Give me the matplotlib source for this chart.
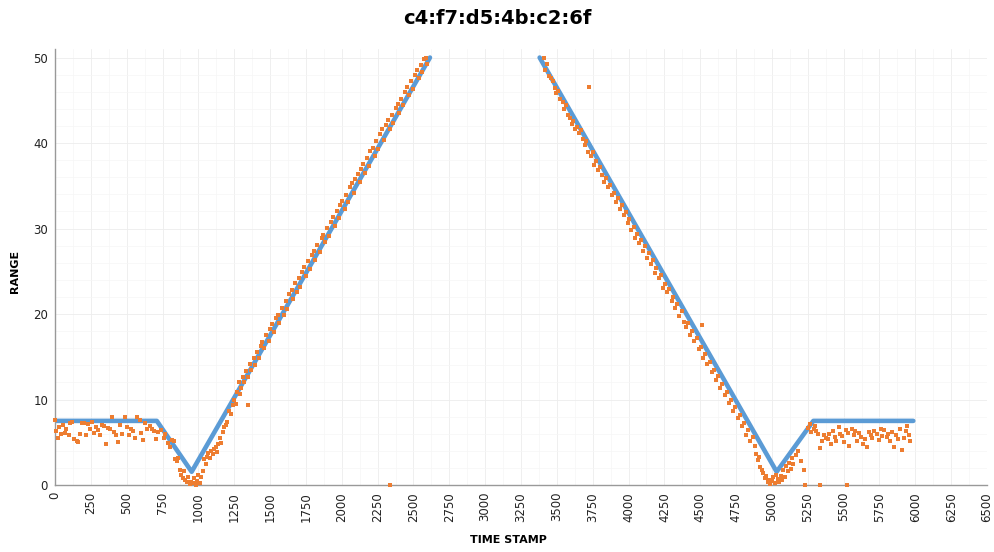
import matplotlib
matplotlib.use("Agg")
import matplotlib.pyplot as plt
from matplotlib.ticker import MultipleLocator

# blue reference track (breakpoints)
track1_x = [0, 710, 953, 2615]
track1_y = [7.5, 7.5, 1.55, 50.0]
track2_x = [3380, 5033, 5289, 5986]
track2_y = [50.0, 1.55, 7.5, 7.5]

# orange measured samples
flat1_x = [0, 10, 20, 30, 45, 55, 70, 80, 95, 105, 120, 135, 150, 160, 175, 190, 200, 215,
           230, 245, 260, 270, 285, 300, 315, 330, 345, 355, 370, 385, 400, 410, 425, 440,
           455, 470, 485, 500, 515, 530, 545, 560, 575, 590, 600, 615, 630, 645, 660, 675,
           690, 705, 720]
flat1_y = [7.6, 6.3, 5.5, 6.8, 6.0, 7.0, 6.1, 6.5, 5.9, 7.2, 7.4, 5.4, 5.2, 5.0, 6.0, 7.2,
           7.3, 5.8, 7.1, 6.6, 7.4, 6.1, 6.8, 6.4, 5.8, 7.0, 6.9, 4.8, 6.7, 6.5, 7.9, 6.2,
           5.9, 5.0, 7.0, 6.0, 8.0, 6.8, 5.9, 6.6, 6.3, 5.5, 8.0, 7.6, 6.1, 5.3, 7.2, 6.6,
           6.9, 6.5, 6.3, 5.4, 6.2]

dip1_x = [740, 760, 770, 790, 800, 815, 830, 840, 850, 860, 870, 880, 890, 900, 910, 920,
          930, 940, 950, 960, 970, 980, 990, 1000, 1010, 1020, 1030, 1040, 1050, 1060, 1070,
          1080, 1090, 1100, 1110, 1120, 1130, 1140, 1150, 1160, 1170, 1180, 1190, 1200, 1215,
          1225, 1240, 1250, 1260, 1270, 1285, 1290, 1346]
dip1_y = [6.4, 5.5, 6.0, 4.9, 4.5, 5.3, 5.1, 3.0, 2.8, 3.2, 1.8, 1.2, 0.8, 1.6, 0.6, 0.3,
          0.9, 0.1, 0.4, 0.2, 0.8, 0.0, 0.5, 1.2, 0.2, 0.9, 1.6, 3.0, 2.4, 3.3, 3.8, 3.2,
          4.0, 3.6, 4.2, 4.5, 3.9, 4.8, 5.5, 4.9, 6.2, 6.8, 7.0, 7.4, 8.6, 8.3, 9.3, 9.9,
          9.5, 10.9, 12.1, 10.7, 9.3]

rise_x = [1300, 1310, 1320, 1335, 1345, 1360, 1370, 1385, 1395, 1410, 1420, 1435, 1445, 1460,
          1475, 1490, 1500, 1515, 1525, 1540, 1555, 1565, 1580, 1595, 1610, 1620, 1635, 1650,
          1660, 1675, 1685, 1700, 1710, 1725, 1740, 1750, 1765, 1780, 1790, 1805, 1815, 1830,
          1845, 1860, 1870, 1885, 1900, 1910, 1925, 1940, 1950, 1965, 1980, 1990, 2005, 2020,
          2030, 2045, 2060, 2070, 2085, 2095, 2110, 2125, 2135, 2150, 2160, 2175, 2190, 2200,
          2215, 2230, 2240, 2255, 2270, 2280, 2295, 2310, 2320, 2335, 2350, 2360, 2375, 2390,
          2400, 2415, 2430, 2440, 2455, 2470, 2480, 2495, 2510, 2525, 2540, 2550, 2560, 2575,
          2585, 2595]
rise_y = [11.4, 12.6, 12.0, 13.3, 12.6, 14.1, 13.4, 14.9, 14.0, 15.6, 14.8, 16.3, 16.7, 16.0,
          17.5, 16.8, 18.2, 18.8, 17.9, 19.5, 19.9, 19.0, 20.7, 19.9, 21.5, 20.6, 22.3, 22.8,
          21.8, 23.6, 22.6, 24.2, 23.2, 24.9, 25.5, 24.4, 26.2, 25.3, 26.9, 27.4, 26.3, 28.1,
          27.2, 28.9, 29.3, 28.4, 30.1, 29.1, 30.8, 31.3, 30.3, 32.0, 31.2, 32.7, 33.2, 32.3,
          33.9, 33.1, 34.8, 35.3, 34.2, 35.8, 36.4, 35.4, 37.0, 37.6, 36.5, 38.3, 37.3, 39.1,
          39.4, 38.5, 40.2, 39.3, 41.0, 41.6, 40.4, 42.1, 42.7, 41.6, 43.3, 42.4, 44.1, 44.6,
          43.5, 45.2, 44.4, 46.0, 46.5, 45.6, 47.2, 46.3, 48.0, 48.5, 47.6, 49.1, 48.3, 49.8,
          50.0, 49.3]

fall_x = [3410, 3420, 3430, 3445, 3460, 3470, 3485, 3495, 3510, 3525, 3540, 3550, 3565, 3580,
          3590, 3605, 3615, 3630, 3640, 3655, 3665, 3680, 3695, 3705, 3720, 3724, 3735, 3750,
          3760, 3775, 3790, 3800, 3815, 3830, 3840, 3855, 3870, 3885, 3900, 3910, 3925, 3940,
          3955, 3965, 3980, 3995, 4005, 4020, 4035, 4045, 4060, 4075, 4090, 4100, 4115, 4130,
          4140, 4155, 4170, 4185, 4195, 4210, 4225, 4240, 4255, 4270, 4285, 4300, 4310, 4325,
          4340, 4355, 4370, 4385, 4400, 4415, 4430, 4445, 4460, 4475, 4490, 4505, 4510, 4520,
          4535, 4550, 4565, 4580, 4595, 4610, 4625, 4640, 4655, 4670, 4685, 4700, 4715, 4730,
          4745, 4760, 4775, 4790, 4805, 4820, 4835, 4850, 4865, 4880]
fall_y = [50.0, 48.6, 49.2, 47.9, 47.6, 47.3, 46.4, 45.9, 46.1, 45.2, 44.8, 44.0, 44.4, 43.3,
          42.9, 42.2, 42.6, 41.6, 41.9, 41.2, 41.5, 40.5, 39.8, 40.2, 39.0, 46.6, 38.5, 38.9,
          37.4, 37.9, 36.8, 37.2, 36.3, 35.4, 35.9, 34.8, 35.1, 33.9, 34.2, 33.1, 33.6, 32.3,
          32.8, 31.6, 31.9, 30.7, 31.1, 29.8, 30.2, 28.9, 29.4, 28.3, 28.6, 27.4, 27.9, 26.6,
          27.1, 25.9, 26.3, 24.8, 25.4, 24.2, 24.6, 23.1, 23.5, 22.6, 22.9, 21.5, 22.0, 20.7,
          21.2, 19.8, 20.3, 19.1, 18.5, 18.9, 17.6, 18.0, 16.8, 17.2, 15.9, 16.2, 18.7, 14.9,
          15.3, 14.1, 14.4, 13.2, 13.5, 12.3, 12.7, 11.4, 11.8, 10.5, 10.9, 9.6, 10.0, 8.7,
          9.1, 7.8, 8.2, 6.9, 7.3, 5.8, 6.4, 5.2, 5.6, 4.6]

dip2_x = [4890, 4900, 4910, 4920, 4930, 4940, 4950, 4960, 4970, 4980, 4990, 5000, 5010, 5020,
          5030, 5040, 5050, 5060, 5070, 5080, 5090, 5100, 5110, 5120, 5130, 5140, 5150, 5165,
          5180, 5200, 5224, 5230, 5250, 5265, 5275, 5335, 5523]
dip2_y = [3.6, 2.9, 3.3, 2.1, 1.8, 1.4, 0.8, 1.1, 0.3, 0.6, 0.1, 0.5, 0.9, 0.2, 1.2, 0.7,
          0.4, 1.0, 0.6, 1.8, 0.9, 2.2, 1.6, 2.6, 1.9, 3.1, 2.4, 3.5, 4.0, 2.8, 1.7, 0.0,
          6.7, 7.1, 6.2, 0.0, 0.0]

flat2_x = [5290, 5300, 5310, 5320, 5335, 5350, 5360, 5375, 5390, 5400, 5410, 5425, 5440, 5450,
           5465, 5475, 5490, 5500, 5515, 5530, 5540, 5555, 5570, 5580, 5595, 5610, 5620, 5635,
           5650, 5660, 5675, 5690, 5700, 5715, 5730, 5745, 5760, 5770, 5785, 5800, 5810, 5825,
           5840, 5850, 5865, 5880, 5890, 5905, 5920, 5935, 5945, 5955, 5965]
flat2_y = [6.6, 6.9, 6.3, 6.0, 4.3, 5.2, 5.8, 5.5, 5.4, 6.0, 4.8, 6.3, 5.6, 5.1, 6.8, 6.0,
           5.7, 5.0, 6.4, 6.1, 4.6, 6.6, 5.9, 6.3, 5.2, 6.1, 5.6, 4.8, 5.4, 4.5, 6.2, 5.8,
           5.5, 6.3, 6.0, 5.3, 6.5, 5.7, 6.4, 5.6, 6.0, 5.2, 6.2, 4.5, 5.9, 5.4, 6.5, 4.1,
           5.5, 6.3, 6.9, 5.8, 5.2]

stray_x = [2336]
stray_y = [0.0]

x_ticks = list(range(0, 6501, 250))
y_ticks = [0, 10, 20, 30, 40, 50]

BLUE = "#5b9bd5"
ORANGE = "#ed7d31"

fig = plt.figure(figsize=(9.94, 5.52), dpi=100)
ax = fig.add_axes([55 / 994, 67 / 552, 932 / 994, 436 / 552])

ax.plot(track1_x, track1_y, color=BLUE, lw=3.3, solid_capstyle="round", zorder=2)
ax.plot(track2_x, track2_y, color=BLUE, lw=3.3, solid_capstyle="round", zorder=2)

for xs, ys in [(flat1_x, flat1_y), (dip1_x, dip1_y), (rise_x, rise_y), (fall_x, fall_y),
               (dip2_x, dip2_y), (flat2_x, flat2_y), (stray_x, stray_y)]:
    ax.scatter(xs, ys, s=12, marker="s", color=ORANGE, linewidths=0, zorder=3, clip_on=False)

ax.set_xlim(0, 6500)
ax.set_ylim(0, 51)
ax.set_xticks(x_ticks)
ax.set_xticklabels([str(t) for t in x_ticks], rotation=90, fontsize=8.5, color="#222222")
ax.set_yticks(y_ticks)
ax.set_yticklabels([str(t) for t in y_ticks], fontsize=8.5, color="#222222")
ax.xaxis.set_minor_locator(MultipleLocator(125))
ax.yaxis.set_minor_locator(MultipleLocator(2))
ax.tick_params(which="both", length=0, pad=5)
ax.grid(which="major", color="#ededed", lw=0.6, zorder=0)
ax.grid(which="minor", color="#f6f6f6", lw=0.5, zorder=0)
ax.set_axisbelow(True)

for s in ["top", "right"]:
    ax.spines[s].set_visible(False)
for s in ["left", "bottom"]:
    ax.spines[s].set_color("#999999")
    ax.spines[s].set_linewidth(1.0)

fig.text(0.5, 0.967, "c4:f7:d5:4b:c2:6f", ha="center", va="center",
         fontsize=14, fontweight="bold")
fig.text(15 / 994, 1 - 271 / 552, "RANGE", rotation=90, ha="center", va="center",
         fontsize=8, fontweight="bold")
fig.text(508 / 994, 1 - 540 / 552, "TIME STAMP", ha="center", va="center",
         fontsize=8, fontweight="bold")

fig.savefig("out.png", dpi=100)
